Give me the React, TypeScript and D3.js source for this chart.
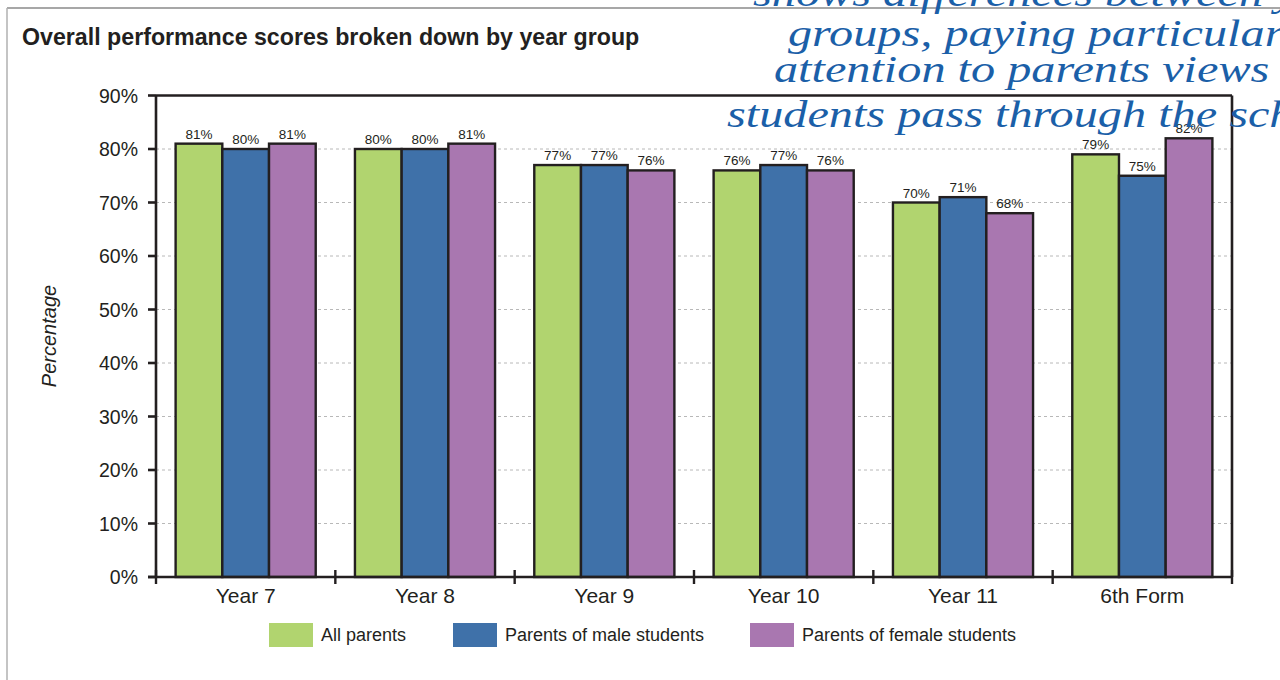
import React from "react";
import * as d3 from "d3";

const categories = ["Year 7", "Year 8", "Year 9", "Year 10", "Year 11", "6th Form"];
const seriesNames = ["All parents", "Parents of male students", "Parents of female students"];
const allParents = [81, 80, 77, 76, 70, 79];
const maleStudents = [80, 80, 77, 77, 71, 75];
const femaleStudents = [81, 81, 76, 76, 68, 82];
const yTicks = [0, 10, 20, 30, 40, 50, 60, 70, 80, 90];
const noteLines = [
  "shows differences between year",
  "groups, paying particular",
  "attention to parents views",
  "students pass through the school",
];

const colors = ["#b1d46f", "#3f71a9", "#a977b0"];
const seriesValues = [allParents, maleStudents, femaleStudents];

export default function App() {
  const W = 1280, H = 680;
  const left = 156, right = 1232, top = 95.5, bottom = 577;
  const x = d3.scaleBand<string>().domain(categories).range([left, right]).paddingInner(0).paddingOuter(0);
  const inner = d3.scaleBand<string>().domain(seriesNames).range([0, x.bandwidth()]).paddingInner(0).paddingOuter(0.42);
  const y = d3.scaleLinear().domain([0, 90]).range([bottom, top]);
  const font = "'Liberation Sans', Arial, Helvetica, sans-serif";
  const ink = "#231f20";
  const bandTicks = categories.map((c) => x(c)!).concat([right]);

  const legendItems = [
    { x: 269, text: seriesNames[0] },
    { x: 453, text: seriesNames[1] },
    { x: 750, text: seriesNames[2] },
  ];
  const noteX = [753, 788, 774, 727];
  const noteY = [6, 46, 82, 127];

  return (
    <svg width={W} height={H} style={{ position: "absolute", left: 0, top: 0, background: "#fff" }} fontFamily={font}>
      <rect x={0} y={0} width={W} height={H} fill="#fff" />
      {/* frame */}
      <line x1={7} y1={8} x2={W} y2={8} stroke="#8a8a8a" strokeWidth={1.5} />
      <line x1={7} y1={8} x2={7} y2={H} stroke="#b0b0b0" strokeWidth={1.5} />

      <text x={22} y={45} fontSize={23.2} fontWeight="bold" fill={ink}>
        Overall performance scores broken down by year group
      </text>

      {/* gridlines */}
      {yTicks.filter((t) => t > 0 && t < 90).map((t) => (
        <line key={"g" + t} x1={left} x2={right} y1={y(t)} y2={y(t)} stroke="#b8b8b8" strokeWidth={1} strokeDasharray="3,3" />
      ))}

      {/* bars */}
      {categories.map((c, i) => (
        <g key={c}>
          {seriesValues.map((vals, s) => {
            const bx = x(c)! + inner(seriesNames[s])!;
            const bw = inner.bandwidth();
            return (
              <g key={s}>
                <rect x={bx} y={y(vals[i])} width={bw} height={bottom - y(vals[i])} fill={colors[s]} stroke={ink} strokeWidth={2.4} />
                <text x={bx + bw / 2} y={y(vals[i]) - 5} textAnchor="middle" fontSize={13.5} fill={ink}>
                  {vals[i]}%
                </text>
              </g>
            );
          })}
        </g>
      ))}

      {/* plot frame */}
      <line x1={left} x2={right} y1={top} y2={top} stroke={ink} strokeWidth={2.6} />
      <line x1={right} x2={right} y1={top} y2={bottom} stroke={ink} strokeWidth={2.6} />
      <line x1={left} x2={left} y1={top} y2={bottom} stroke={ink} strokeWidth={2.6} />
      <line x1={left - 8} x2={right} y1={bottom} y2={bottom} stroke={ink} strokeWidth={2.6} />

      {/* y ticks */}
      {yTicks.map((t) => (
        <g key={"y" + t}>
          <line x1={left - 8} x2={left} y1={y(t)} y2={y(t)} stroke={ink} strokeWidth={2.6} />
          <text x={138} y={y(t) + 7} textAnchor="end" fontSize={19.5} fill={ink}>
            {t}%
          </text>
        </g>
      ))}

      {/* x ticks */}
      {bandTicks.map((t, i) => (
        <line key={"xt" + i} x1={t} x2={t} y1={bottom - 7} y2={bottom + 7} stroke={ink} strokeWidth={2.4} />
      ))}
      {categories.map((c) => (
        <text key={"xl" + c} x={x(c)! + x.bandwidth() / 2} y={603} textAnchor="middle" fontSize={21} fill={ink}>
          {c}
        </text>
      ))}

      <text transform={`translate(56,336) rotate(-90)`} textAnchor="middle" fontSize={20} fontStyle="italic" fill={ink}>
        Percentage
      </text>

      {/* legend */}
      {legendItems.map((l, i) => (
        <g key={"l" + i}>
          <rect x={l.x} y={623} width={44} height={24} fill={colors[i]} />
          <text x={l.x + 52} y={641} fontSize={18} fill={ink}>
            {l.text}
          </text>
        </g>
      ))}

      {/* handwritten note */}
      {noteLines.map((t, i) => (
        <text
          key={"n" + i}
          transform={`translate(${noteX[i]},${noteY[i]}) scale(1.27,1)`}
          fontSize={38}
          fontStyle="italic"
          fontFamily="'Liberation Serif', 'DejaVu Serif', serif"
          fill="#1b5fa8"
        >
          {t}
        </text>
      ))}
    </svg>
  );
}
